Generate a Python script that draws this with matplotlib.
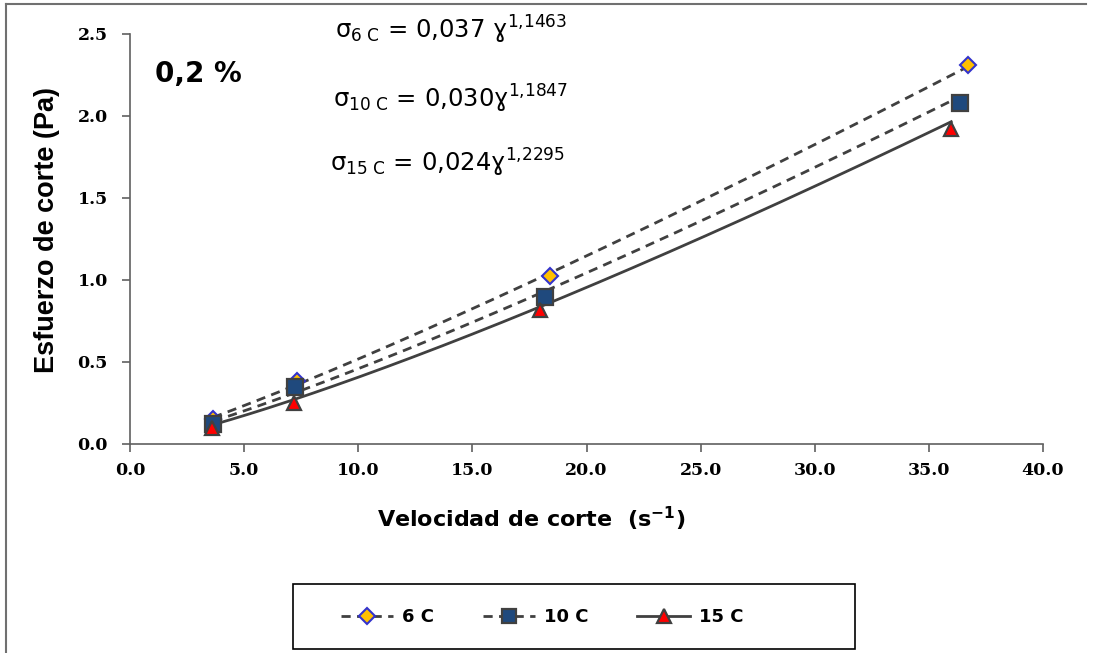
import numpy as np
import matplotlib
matplotlib.use("Agg")
import matplotlib.pyplot as plt
from matplotlib.lines import Line2D
from matplotlib.patches import Rectangle

plt.rcParams['mathtext.fontset'] = 'custom'
plt.rcParams['mathtext.rm'] = 'DejaVu Sans'
plt.rcParams['mathtext.bf'] = 'DejaVu Sans:bold'
plt.rcParams['mathtext.default'] = 'regular'

# Data
labels = ['6 C', '10 C', '15 C']
x6 = [3.64, 7.32, 18.38, 36.70]
y6 = [0.152, 0.384, 1.026, 2.31]
x10 = [3.65, 7.25, 18.17, 36.37]
y10 = [0.12, 0.35, 0.898, 2.08]
x15 = [3.60, 7.19, 17.98, 35.98]
y15 = [0.10, 0.248, 0.817, 1.92]
# power-law trend coefficients shown on chart: sigma = a * gamma^b
coef_a = [0.037, 0.030, 0.024]
coef_b = [1.1463, 1.1847, 1.2295]
eq_texts = [r'σ$_{6\ C}$ = 0,037 ɣ$^{1{,}1463}$',
            r'σ$_{10\ C}$ = 0,030ɣ$^{1{,}1847}$',
            r'σ$_{15\ C}$ = 0,024ɣ$^{1{,}2295}$']
xticks = [0, 5, 10, 15, 20, 25, 30, 35, 40]
yticks = [0.0, 0.5, 1.0, 1.5, 2.0, 2.5]

W, H = 1096, 653
fig = plt.figure(figsize=(W / 100, H / 100), dpi=100)
ax = fig.add_axes([130 / W, 1 - 444 / H, (1043 - 130) / W, (444 - 34) / H])

line_col = '#404040'
dash = (0, (3.3, 2.3))
styles = [
    dict(ls=dash, marker='D', mfc='#FFC000', mec='#3333CC', ms=8.5, mew=1.5),
    dict(ls=dash, marker='s', mfc='#1F497D', mec='#404040', ms=11, mew=1.6),
    dict(ls='-', marker='^', mfc='#FF0000', mec='#404040', ms=10.5, mew=1.6),
]
xs = [x6, x10, x15]
ys = [y6, y10, y15]

handles = []
for xd, yd, a, b, st, lab in zip(xs, ys, coef_a, coef_b, styles, labels):
    xx = np.linspace(min(xd), max(xd), 200)
    ax.plot(xx, a * xx ** b, color=line_col, lw=2, ls=st['ls'], zorder=2)
    handles.append(Line2D([], [], color=line_col, lw=2, ls=st['ls'], marker=st['marker'],
                          mfc=st['mfc'], mec=st['mec'], ms=st['ms'] * 0.9, mew=st['mew'], label=lab))

for xd, yd, st in zip(xs, ys, styles):
    ax.plot(xd, yd, ls='none', marker=st['marker'], mfc=st['mfc'], mec=st['mec'],
            ms=st['ms'], mew=st['mew'], zorder=3)

ax.set_xlim(0, 40)
ax.set_ylim(0, 2.5)
ax.set_xticks(xticks)
ax.set_yticks(yticks)
ax.set_xticklabels([f'{v:.1f}' for v in xticks])
ax.set_yticklabels([f'{v:.1f}' for v in yticks])
for s in ['top', 'right']:
    ax.spines[s].set_visible(False)
for s in ['left', 'bottom']:
    ax.spines[s].set_color('#606060')
    ax.spines[s].set_linewidth(1.2)
ax.tick_params(direction='out', length=6, width=1.2, color='#606060')
ax.tick_params(axis='y', pad=10)
ax.tick_params(axis='x', pad=7)
for lbl in ax.get_xticklabels() + ax.get_yticklabels():
    lbl.set_fontfamily('DejaVu Serif')
    lbl.set_fontweight('bold')
    lbl.set_fontsize(12.5)

fig.text(47 / W, 1 - 230 / H, 'Esfuerzo de corte (Pa)', rotation=90,
         fontfamily='Liberation Sans', fontweight='bold', fontsize=19.5,
         ha='center', va='center')
fig.text(531 / W, 1 - 519 / H, r'Velocidad de corte  (s$^{\mathbf{-1}}$)',
         fontfamily='DejaVu Sans', fontweight='bold', fontsize=16,
         ha='center', va='center')

fig.text(155 / W, 1 - 74 / H, '0,2 %', fontfamily='DejaVu Sans',
         fontweight='bold', fontsize=20, ha='left', va='center')

eq_pos = [(335, 30), (333, 99), (330, 163)]
for (px, py), t in zip(eq_pos, eq_texts):
    fig.text(px / W, 1 - py / H, t, fontfamily='DejaVu Sans', fontsize=17.5,
             ha='left', va='center')

# legend box
fig.patches.append(Rectangle((293 / W, 1 - 649 / H), (855 - 293) / W, (649 - 584) / H,
                             transform=fig.transFigure, fill=False, ec='black', lw=1.2))
leg = fig.legend(handles=handles, loc='center', bbox_to_anchor=(542 / W, 1 - 617 / H),
                 ncol=3, frameon=False, handlelength=2.9, columnspacing=2.7, handletextpad=0.5,
                 prop=dict(family='DejaVu Sans', weight='bold', size=13))

# outer figure border (top and left visible)
fig.lines.append(Line2D([6 / W, 1086 / W], [1 - 4 / H, 1 - 4 / H], transform=fig.transFigure,
                        color='#707070', lw=1.5))
fig.lines.append(Line2D([6 / W, 6 / W], [1 - 4 / H, 0], transform=fig.transFigure,
                        color='#707070', lw=1.5))

fig.savefig('out.png', dpi=100)
